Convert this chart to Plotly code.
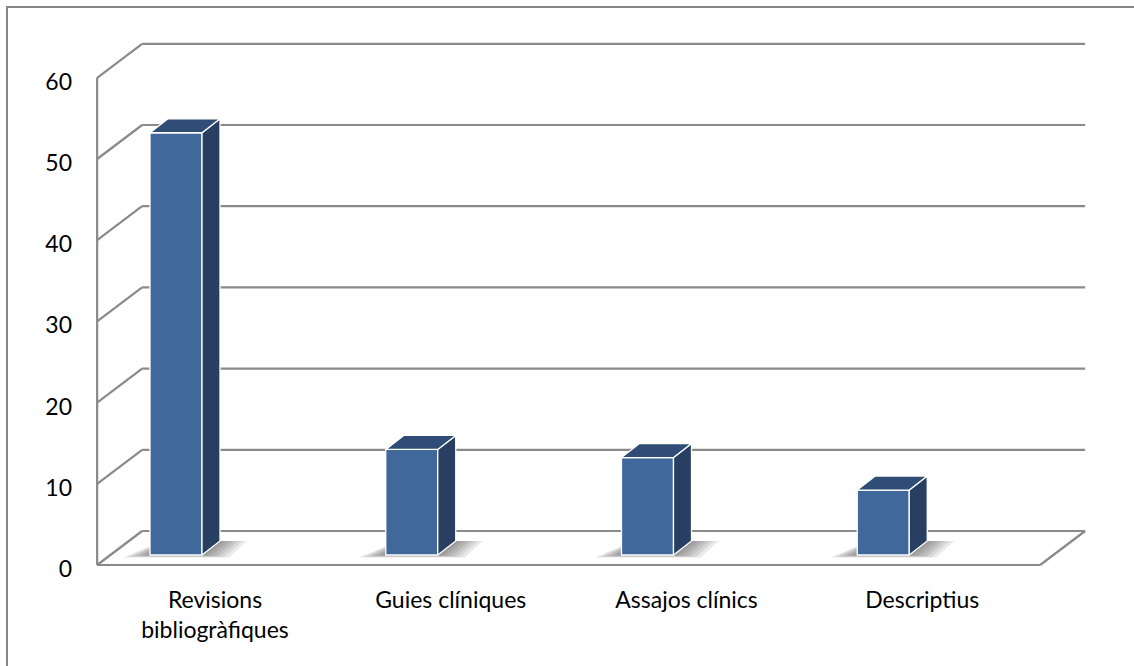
import plotly.graph_objects as go

# Data
categories = ["Revisions<br>bibliogràfiques", "Guies clíniques", "Assajos clínics", "Descriptius"]
values = [52, 13, 12, 8]
y_ticks = [0, 10, 20, 30, 40, 50, 60]

# Canvas and plot-area geometry (pixels)
W, H = 1134, 666
PLOT_L, PLOT_R, PLOT_T, PLOT_B = 87, 1134, 0, 575
CAT_PX = 235.75      # width of one category on the front plane
CAT0_PX = 215        # centre of first category on the front plane
UNIT_PX = 8.12       # pixels per value unit
ZERO_PX = 565        # front-plane zero line


def ux(px):
    return px / CAT_PX


def uy(px):
    return px / UNIT_PX


# 3-D look: depth offsets of walls and bars, expressed in axis units
WALL_DX, WALL_DY = ux(45), uy(34)
BAR_DX, BAR_DY = ux(18), uy(14)
BAR_W = ux(52)
BAR_SHIFT = ux(-39)
BAR_LIFT = uy(10)

FRONT_COL = "#40689B"
SIDE_COL = "#283F62"
TOP_COL = "#2F4D76"
GRID_COL = "#8A8A8A"

n = len(categories)
x_left, x_right = -0.5, n - 0.5
y_top = max(y_ticks)


def path(points):
    return "M " + " L ".join(f"{x},{y}" for x, y in points) + " Z"


fig = go.Figure()
shapes = []

# Walls and floor
line_style = dict(color=GRID_COL, width=2.2)
for v in y_ticks:
    shapes.append(dict(type="line", xref="x", yref="y", layer="below",
                       x0=x_left + WALL_DX, y0=v + WALL_DY,
                       x1=x_right + WALL_DX, y1=v + WALL_DY, line=line_style))
    shapes.append(dict(type="line", xref="x", yref="y", layer="below",
                       x0=x_left, y0=v, x1=x_left + WALL_DX, y1=v + WALL_DY,
                       line=line_style))
shapes.append(dict(type="line", xref="x", yref="y", layer="below",
                   x0=x_left, y0=0, x1=x_left, y1=y_top, line=line_style))
shapes.append(dict(type="line", xref="x", yref="y", layer="below",
                   x0=x_left, y0=0, x1=x_right, y1=0, line=line_style))
shapes.append(dict(type="line", xref="x", yref="y", layer="below",
                   x0=x_right, y0=0, x1=x_right + WALL_DX, y1=WALL_DY,
                   line=line_style))

# Soft floor shadows around each column (beneath the bars)
bar_x = [i + BAR_SHIFT for i in range(n)]
for cx in bar_x:
    L, R = cx - BAR_W / 2, cx + BAR_W / 2
    b = BAR_LIFT
    for k in range(1, 7):
        e = ux(4.5 * k)
        ey = uy(0.4 * k)
        pts = [(L - e, b - ey), (R + e, b - ey),
               (R + BAR_DX + e, b + BAR_DY), (L + BAR_DX - 0.2 * e, b + BAR_DY)]
        shapes.append(dict(type="path", xref="x", yref="y", layer="below",
                           path=path(pts), fillcolor="rgba(50,50,50,0.1)",
                           line=dict(width=0)))

# Front faces of the columns
fig.add_trace(go.Bar(
    x=bar_x, y=values, base=BAR_LIFT, width=BAR_W,
    marker=dict(color=FRONT_COL, line=dict(color="white", width=1.3)),
    hoverinfo="skip", showlegend=False))

# Side and top faces
for cx, v in zip(bar_x, values):
    L, R = cx - BAR_W / 2, cx + BAR_W / 2
    b, t = BAR_LIFT, BAR_LIFT + v
    fig.add_trace(go.Scatter(
        x=[R, R + BAR_DX, R + BAR_DX, R, R],
        y=[b, b + BAR_DY, t + BAR_DY, t, b],
        mode="lines", fill="toself", fillcolor=SIDE_COL,
        line=dict(color="white", width=1.3),
        hoverinfo="skip", showlegend=False))
    fig.add_trace(go.Scatter(
        x=[L, R, R + BAR_DX, L + BAR_DX, L],
        y=[t, t, t + BAR_DY, t + BAR_DY, t],
        mode="lines", fill="toself", fillcolor=TOP_COL,
        line=dict(color="white", width=1.3),
        hoverinfo="skip", showlegend=False))

# Chart-area border
pw, ph = PLOT_R - PLOT_L, PLOT_B - PLOT_T
shapes.append(dict(type="rect", xref="paper", yref="paper",
                   x0=(7 - PLOT_L) / pw, x1=(W + 20 - PLOT_L) / pw,
                   y0=(PLOT_B - (H + 20)) / ph, y1=(PLOT_B - 7) / ph,
                   line=dict(color="#878787", width=2), fillcolor="rgba(0,0,0,0)"))

font = dict(family="Lato, 'Noto Sans', sans-serif", size=23, color="#000000")

fig.update_layout(
    width=W, height=H,
    margin=dict(l=PLOT_L, r=W - PLOT_R, t=PLOT_T, b=H - PLOT_B, autoexpand=False),
    paper_bgcolor="white", plot_bgcolor="rgba(0,0,0,0)",
    shapes=shapes, showlegend=False, font=font,
    xaxis=dict(range=[(PLOT_L - CAT0_PX) / CAT_PX, (PLOT_R - CAT0_PX) / CAT_PX],
               tickmode="array", tickvals=list(range(n)), ticktext=categories,
               showgrid=False, zeroline=False, showline=False, ticks="",
               ticklabelstandoff=9, automargin=False, fixedrange=True),
    yaxis=dict(range=[(ZERO_PX - PLOT_B) / UNIT_PX, (ZERO_PX - PLOT_T) / UNIT_PX],
               tickmode="array", tickvals=y_ticks, ticktext=[str(v) for v in y_ticks],
               showgrid=False, zeroline=False, showline=False, ticks="",
               ticklabelstandoff=14, ticklabelshift=4,
               automargin=False, fixedrange=True),
)

fig.write_html("out.html")
